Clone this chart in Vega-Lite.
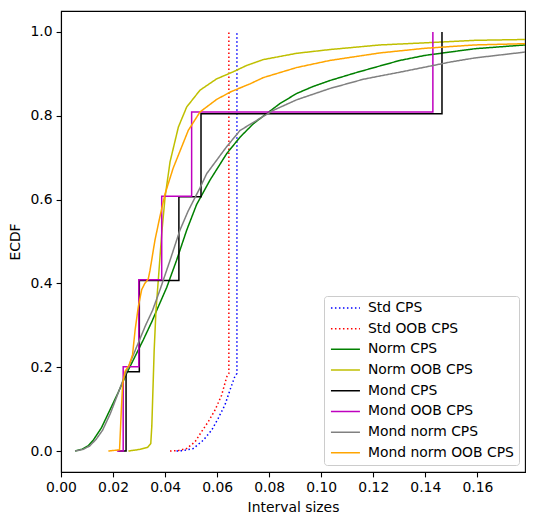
{
  "$schema": "https://vega.github.io/schema/vega-lite/v6.json",
  "width": 464,
  "height": 461,
  "autosize": {"type": "none"},
  "padding": {"left": 61, "top": 11, "right": 11, "bottom": 53},
  "background": "white",
  "data": {"values": [
    {"s": "Std CPS", "x": 0.0444, "y": 0.0},
    {"s": "Std CPS", "x": 0.047, "y": 0.001},
    {"s": "Std CPS", "x": 0.0508, "y": 0.006},
    {"s": "Std CPS", "x": 0.0547, "y": 0.026},
    {"s": "Std CPS", "x": 0.0579, "y": 0.05},
    {"s": "Std CPS", "x": 0.0604, "y": 0.078},
    {"s": "Std CPS", "x": 0.063, "y": 0.11},
    {"s": "Std CPS", "x": 0.0649, "y": 0.145},
    {"s": "Std CPS", "x": 0.0668, "y": 0.178},
    {"s": "Std CPS", "x": 0.0676, "y": 0.185},
    {"s": "Std CPS", "x": 0.0676, "y": 1.0},
    {"s": "Std OOB CPS", "x": 0.0419, "y": 0.0},
    {"s": "Std OOB CPS", "x": 0.045, "y": 0.001},
    {"s": "Std OOB CPS", "x": 0.0483, "y": 0.006},
    {"s": "Std OOB CPS", "x": 0.0515, "y": 0.022},
    {"s": "Std OOB CPS", "x": 0.054, "y": 0.046},
    {"s": "Std OOB CPS", "x": 0.0566, "y": 0.07},
    {"s": "Std OOB CPS", "x": 0.0592, "y": 0.098},
    {"s": "Std OOB CPS", "x": 0.0617, "y": 0.133},
    {"s": "Std OOB CPS", "x": 0.0637, "y": 0.177},
    {"s": "Std OOB CPS", "x": 0.0645, "y": 0.185},
    {"s": "Std OOB CPS", "x": 0.0645, "y": 1.0},
    {"s": "Norm CPS", "x": 0.0054, "y": 0.0},
    {"s": "Norm CPS", "x": 0.008, "y": 0.004},
    {"s": "Norm CPS", "x": 0.0105, "y": 0.013},
    {"s": "Norm CPS", "x": 0.0124, "y": 0.026},
    {"s": "Norm CPS", "x": 0.0155, "y": 0.055},
    {"s": "Norm CPS", "x": 0.0188, "y": 0.098},
    {"s": "Norm CPS", "x": 0.022, "y": 0.14},
    {"s": "Norm CPS", "x": 0.0252, "y": 0.185},
    {"s": "Norm CPS", "x": 0.0284, "y": 0.225},
    {"s": "Norm CPS", "x": 0.0316, "y": 0.265},
    {"s": "Norm CPS", "x": 0.035, "y": 0.31},
    {"s": "Norm CPS", "x": 0.0368, "y": 0.336},
    {"s": "Norm CPS", "x": 0.0406, "y": 0.39},
    {"s": "Norm CPS", "x": 0.0444, "y": 0.455},
    {"s": "Norm CPS", "x": 0.0483, "y": 0.527},
    {"s": "Norm CPS", "x": 0.0521, "y": 0.588},
    {"s": "Norm CPS", "x": 0.0572, "y": 0.646},
    {"s": "Norm CPS", "x": 0.0637, "y": 0.71},
    {"s": "Norm CPS", "x": 0.0688, "y": 0.749},
    {"s": "Norm CPS", "x": 0.0739, "y": 0.781},
    {"s": "Norm CPS", "x": 0.0777, "y": 0.799},
    {"s": "Norm CPS", "x": 0.0841, "y": 0.829},
    {"s": "Norm CPS", "x": 0.0905, "y": 0.853},
    {"s": "Norm CPS", "x": 0.0969, "y": 0.87},
    {"s": "Norm CPS", "x": 0.1033, "y": 0.884},
    {"s": "Norm CPS", "x": 0.1129, "y": 0.902},
    {"s": "Norm CPS", "x": 0.1226, "y": 0.919},
    {"s": "Norm CPS", "x": 0.1302, "y": 0.932},
    {"s": "Norm CPS", "x": 0.1398, "y": 0.944},
    {"s": "Norm CPS", "x": 0.1494, "y": 0.952},
    {"s": "Norm CPS", "x": 0.159, "y": 0.96},
    {"s": "Norm CPS", "x": 0.1783, "y": 0.969},
    {"s": "Norm OOB CPS", "x": 0.0259, "y": 0.0},
    {"s": "Norm OOB CPS", "x": 0.0303, "y": 0.004},
    {"s": "Norm OOB CPS", "x": 0.0333, "y": 0.009},
    {"s": "Norm OOB CPS", "x": 0.0345, "y": 0.018},
    {"s": "Norm OOB CPS", "x": 0.0349, "y": 0.06},
    {"s": "Norm OOB CPS", "x": 0.0352, "y": 0.12},
    {"s": "Norm OOB CPS", "x": 0.0358, "y": 0.24},
    {"s": "Norm OOB CPS", "x": 0.0365, "y": 0.336},
    {"s": "Norm OOB CPS", "x": 0.0374, "y": 0.409},
    {"s": "Norm OOB CPS", "x": 0.0387, "y": 0.519},
    {"s": "Norm OOB CPS", "x": 0.04, "y": 0.606},
    {"s": "Norm OOB CPS", "x": 0.0419, "y": 0.69},
    {"s": "Norm OOB CPS", "x": 0.0451, "y": 0.773},
    {"s": "Norm OOB CPS", "x": 0.0483, "y": 0.821},
    {"s": "Norm OOB CPS", "x": 0.0534, "y": 0.861},
    {"s": "Norm OOB CPS", "x": 0.0598, "y": 0.888},
    {"s": "Norm OOB CPS", "x": 0.0662, "y": 0.905},
    {"s": "Norm OOB CPS", "x": 0.0713, "y": 0.92},
    {"s": "Norm OOB CPS", "x": 0.0777, "y": 0.934},
    {"s": "Norm OOB CPS", "x": 0.0905, "y": 0.949},
    {"s": "Norm OOB CPS", "x": 0.1033, "y": 0.958},
    {"s": "Norm OOB CPS", "x": 0.1226, "y": 0.969},
    {"s": "Norm OOB CPS", "x": 0.1398, "y": 0.974},
    {"s": "Norm OOB CPS", "x": 0.159, "y": 0.98},
    {"s": "Norm OOB CPS", "x": 0.1783, "y": 0.982},
    {"s": "Mond CPS", "x": 0.022, "y": 0.0},
    {"s": "Mond CPS", "x": 0.025, "y": 0.0},
    {"s": "Mond CPS", "x": 0.025, "y": 0.189},
    {"s": "Mond CPS", "x": 0.0301, "y": 0.189},
    {"s": "Mond CPS", "x": 0.0301, "y": 0.407},
    {"s": "Mond CPS", "x": 0.0453, "y": 0.407},
    {"s": "Mond CPS", "x": 0.0453, "y": 0.607},
    {"s": "Mond CPS", "x": 0.0538, "y": 0.607},
    {"s": "Mond CPS", "x": 0.0538, "y": 0.805},
    {"s": "Mond CPS", "x": 0.1464, "y": 0.805},
    {"s": "Mond CPS", "x": 0.1464, "y": 1.0},
    {"s": "Mond OOB CPS", "x": 0.0215, "y": 0.0},
    {"s": "Mond OOB CPS", "x": 0.0239, "y": 0.0},
    {"s": "Mond OOB CPS", "x": 0.0239, "y": 0.201},
    {"s": "Mond OOB CPS", "x": 0.0299, "y": 0.201},
    {"s": "Mond OOB CPS", "x": 0.0299, "y": 0.409},
    {"s": "Mond OOB CPS", "x": 0.0387, "y": 0.409},
    {"s": "Mond OOB CPS", "x": 0.0387, "y": 0.608},
    {"s": "Mond OOB CPS", "x": 0.0502, "y": 0.608},
    {"s": "Mond OOB CPS", "x": 0.0502, "y": 0.809},
    {"s": "Mond OOB CPS", "x": 0.1429, "y": 0.809},
    {"s": "Mond OOB CPS", "x": 0.1429, "y": 1.0},
    {"s": "Mond norm CPS", "x": 0.0054, "y": 0.0},
    {"s": "Mond norm CPS", "x": 0.0085, "y": 0.004},
    {"s": "Mond norm CPS", "x": 0.011, "y": 0.012},
    {"s": "Mond norm CPS", "x": 0.0135, "y": 0.028},
    {"s": "Mond norm CPS", "x": 0.016, "y": 0.05},
    {"s": "Mond norm CPS", "x": 0.019, "y": 0.09},
    {"s": "Mond norm CPS", "x": 0.0245, "y": 0.18},
    {"s": "Mond norm CPS", "x": 0.0295, "y": 0.255},
    {"s": "Mond norm CPS", "x": 0.0325, "y": 0.3},
    {"s": "Mond norm CPS", "x": 0.0352, "y": 0.336},
    {"s": "Mond norm CPS", "x": 0.038, "y": 0.384},
    {"s": "Mond norm CPS", "x": 0.0419, "y": 0.455},
    {"s": "Mond norm CPS", "x": 0.0457, "y": 0.527},
    {"s": "Mond norm CPS", "x": 0.0488, "y": 0.572},
    {"s": "Mond norm CPS", "x": 0.0534, "y": 0.628},
    {"s": "Mond norm CPS", "x": 0.056, "y": 0.662},
    {"s": "Mond norm CPS", "x": 0.0635, "y": 0.725},
    {"s": "Mond norm CPS", "x": 0.0688, "y": 0.765},
    {"s": "Mond norm CPS", "x": 0.0752, "y": 0.789},
    {"s": "Mond norm CPS", "x": 0.0816, "y": 0.813},
    {"s": "Mond norm CPS", "x": 0.0905, "y": 0.838},
    {"s": "Mond norm CPS", "x": 0.1033, "y": 0.865},
    {"s": "Mond norm CPS", "x": 0.1161, "y": 0.887},
    {"s": "Mond norm CPS", "x": 0.1226, "y": 0.895},
    {"s": "Mond norm CPS", "x": 0.1302, "y": 0.904},
    {"s": "Mond norm CPS", "x": 0.1398, "y": 0.916},
    {"s": "Mond norm CPS", "x": 0.1494, "y": 0.928},
    {"s": "Mond norm CPS", "x": 0.159, "y": 0.938},
    {"s": "Mond norm CPS", "x": 0.1783, "y": 0.952},
    {"s": "Mond norm OOB CPS", "x": 0.0182, "y": 0.0},
    {"s": "Mond norm OOB CPS", "x": 0.0225, "y": 0.003},
    {"s": "Mond norm OOB CPS", "x": 0.0232, "y": 0.1},
    {"s": "Mond norm OOB CPS", "x": 0.0237, "y": 0.16},
    {"s": "Mond norm OOB CPS", "x": 0.0246, "y": 0.19},
    {"s": "Mond norm OOB CPS", "x": 0.0262, "y": 0.205},
    {"s": "Mond norm OOB CPS", "x": 0.0275, "y": 0.23},
    {"s": "Mond norm OOB CPS", "x": 0.0285, "y": 0.29},
    {"s": "Mond norm OOB CPS", "x": 0.0297, "y": 0.344},
    {"s": "Mond norm OOB CPS", "x": 0.031, "y": 0.385},
    {"s": "Mond norm OOB CPS", "x": 0.0322, "y": 0.4},
    {"s": "Mond norm OOB CPS", "x": 0.0335, "y": 0.41},
    {"s": "Mond norm OOB CPS", "x": 0.0342, "y": 0.431},
    {"s": "Mond norm OOB CPS", "x": 0.0361, "y": 0.503},
    {"s": "Mond norm OOB CPS", "x": 0.038, "y": 0.559},
    {"s": "Mond norm OOB CPS", "x": 0.04, "y": 0.614},
    {"s": "Mond norm OOB CPS", "x": 0.0431, "y": 0.675},
    {"s": "Mond norm OOB CPS", "x": 0.0489, "y": 0.765},
    {"s": "Mond norm OOB CPS", "x": 0.0534, "y": 0.809},
    {"s": "Mond norm OOB CPS", "x": 0.0598, "y": 0.839},
    {"s": "Mond norm OOB CPS", "x": 0.0655, "y": 0.858},
    {"s": "Mond norm OOB CPS", "x": 0.0726, "y": 0.876},
    {"s": "Mond norm OOB CPS", "x": 0.0777, "y": 0.891},
    {"s": "Mond norm OOB CPS", "x": 0.0905, "y": 0.915},
    {"s": "Mond norm OOB CPS", "x": 0.1033, "y": 0.932},
    {"s": "Mond norm OOB CPS", "x": 0.1226, "y": 0.95},
    {"s": "Mond norm OOB CPS", "x": 0.1398, "y": 0.961},
    {"s": "Mond norm OOB CPS", "x": 0.159, "y": 0.969},
    {"s": "Mond norm OOB CPS", "x": 0.1783, "y": 0.972}
  ]},
  "mark": {"type": "line", "strokeWidth": 1.5, "clip": true},
  "encoding": {
    "x": {"field": "x", "type": "quantitative",
      "scale": {"domain": [0, 0.1783], "nice": false, "zero": false},
      "axis": {"title": "Interval sizes", "values": [0, 0.02, 0.04, 0.06, 0.08, 0.1, 0.12, 0.14, 0.16], "format": ".2f", "labelFlush": false}},
    "y": {"field": "y", "type": "quantitative",
      "scale": {"domain": [-0.05, 1.05], "nice": false, "zero": false},
      "axis": {"title": "ECDF", "values": [0, 0.2, 0.4, 0.6, 0.8, 1.0], "format": ".1f"}},
    "color": {"field": "s", "type": "nominal",
      "scale": {"domain": ["Std CPS", "Std OOB CPS", "Norm CPS", "Norm OOB CPS", "Mond CPS", "Mond OOB CPS", "Mond norm CPS", "Mond norm OOB CPS"],
        "range": ["#0000ff", "#ff0000", "#008000", "#bfbf00", "#000000", "#bf00bf", "#808080", "#ffa500"]},
      "legend": {"title": null}},
    "strokeDash": {"field": "s", "type": "nominal",
      "scale": {"domain": ["Std CPS", "Std OOB CPS", "Norm CPS", "Norm OOB CPS", "Mond CPS", "Mond OOB CPS", "Mond norm CPS", "Mond norm OOB CPS"],
        "range": [[1.5, 2.5], [1.5, 2.5], [1, 0], [1, 0], [1, 0], [1, 0], [1, 0], [1, 0]]},
      "legend": {"title": null}},
    "order": {"value": null}
  },
  "config": {
    "view": {"stroke": "black", "strokeWidth": 1.1},
    "font": "DejaVu Sans",
    "axis": {
      "grid": false, "domainColor": "black", "domainWidth": 1.1, "tickColor": "black", "tickWidth": 1.1,
      "tickSize": 4.9, "labelPadding": 4, "labelColor": "black", "titleColor": "black",
      "labelFontSize": 13.9, "titleFontSize": 13.9, "titleFontWeight": "normal",
      "labelFont": "DejaVu Sans", "titleFont": "DejaVu Sans", "labelOverlap": false
    },
    "axisX": {"titlePadding": 6},
    "axisY": {"titlePadding": 8},
    "legend": {
      "orient": "none", "legendX": 263, "legendY": 285, "symbolType": "M-1,0H4.8", "symbolSize": 100,
      "symbolStrokeWidth": 1.5, "labelFontSize": 13.9, "labelFont": "DejaVu Sans", "labelColor": "black",
      "labelOffset": 25, "padding": 5, "strokeColor": "#cccccc", "fillColor": "rgba(255,255,255,0.8)",
      "cornerRadius": 3, "rowPadding": 5.7, "labelLimit": 300
    }
  }
}
